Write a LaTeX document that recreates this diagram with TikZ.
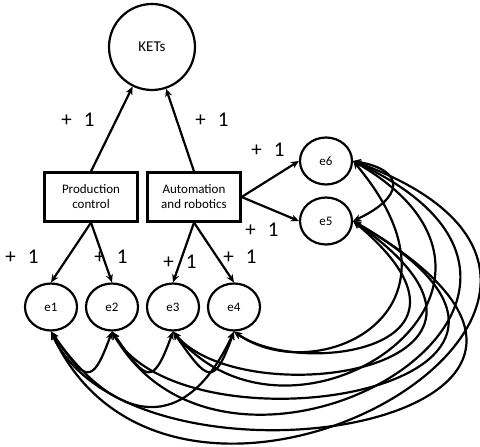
\documentclass[tikz,border=0pt]{standalone}
\usepackage{fontspec}
\setmainfont{Carlito}
\usetikzlibrary{shapes.geometric,arrows.meta}
\begin{document}
\begin{tikzpicture}[x=1pt,y=1pt,>={Stealth[length=8pt,width=7pt]},line width=2.2pt,
 lat/.style={draw,circle,minimum size=86pt,inner sep=0pt,font=\fontsize{15}{18}\selectfont},
 obs/.style={draw,rectangle,minimum width=93pt,minimum height=49pt,inner sep=1pt,align=center,font=\fontsize{13}{15}\selectfont},
 err/.style={draw,ellipse,minimum width=52pt,minimum height=47pt,inner sep=0pt,font=\fontsize{13}{15}\selectfont},
 wt/.style={font=\fontsize{21}{24}\selectfont},
 cov/.style={<->}]
\useasboundingbox (0,0) rectangle (480,447);
\node[lat] (KETs) at (152,400) {KETs};
\node[obs] (pc) at (91,250) {Production\\control};
\node[obs] (ar) at (194,250) {Automation\\and robotics};
\node[err] (e6) at (326,286) {e6};
\node[err] (e5) at (326,226) {e5};
\foreach \i/\x in {1/51,2/112,3/173,4/234}
 \node[err] (e\i) at (\x,140) {e\i};
\draw[->] (pc.north)--(KETs);
\draw[->] (ar.north)--(KETs);
\draw[->] (pc.south)--(e1.north);
\draw[->] (pc.south)--(e2.north);
\draw[->] (ar.south)--(e3.north);
\draw[->] (ar.south)--(e4.north);
\draw[->] (ar.east)--(e6.west);
\draw[->] (ar.east)--(e5.west);
\node[wt] (w1) at (78,327) {+\hspace{12pt}1};
\node[wt] (w2) at (212,327) {+\hspace{12pt}1};
\node[wt] (w3) at (268,297) {+\hspace{12pt}1};
\node[wt] (w4) at (262,217) {+\hspace{12pt}1};
\node[wt] (w5) at (22,190) {+\hspace{12pt}1};
\node[wt] (w6) at (111,190) {+\hspace{12pt}1};
\node[wt] (w7) at (180,185) {+\hspace{12pt}1};
\node[wt] (w8) at (240,190) {+\hspace{12pt}1};
\foreach \a/\b in {e1/e2,e2/e3,e3/e4}
 \draw[cov] (\a.south) .. controls +(-55:60) and +(-110:60) .. (\b.south);
\draw[cov] (e1.south) .. controls +(-55:115) and +(-115:115) .. (e4.south);
\draw[cov] (e6.east) .. controls +(-10:55) and +(25:55) .. (e5.east);
\foreach \a/\b/\o/\p/\n/\q in {e1/e6/-65/305/-20/390,e1/e5/-65/200/-30/400,
  e2/e6/-60/240/-25/330,e2/e5/-60/150/-30/330,e3/e6/-50/190/-30/250,
  e3/e5/-50/110/-35/260,e4/e6/-35/100/-50/200,e4/e5/-35/80/-40/200}
 \draw[cov] (\a.south) .. controls +(\o:\p) and +(\n:\q) .. (\b.east);
\end{tikzpicture}
\end{document}
